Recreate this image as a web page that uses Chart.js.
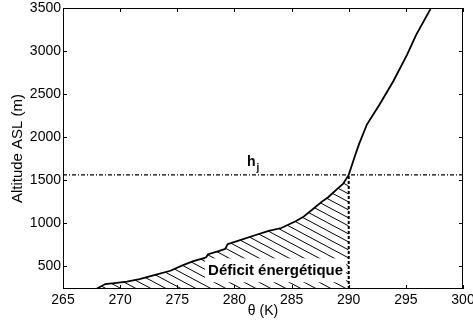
<!DOCTYPE html>
<html>
<head>
<meta charset="utf-8">
<script src="https://cdn.jsdelivr.net/npm/chart.js@4/dist/chart.umd.min.js"></script>
<style>
  html, body { margin: 0; padding: 0; background: #fff; }
  #wrap { width: 473px; height: 326px; }
</style>
</head>
<body>
<div id="wrap"><canvas id="c" width="473" height="326"></canvas></div>
<script>
// Potential temperature profile (K) against altitude above sea level (m)
const thetaK = [267.9, 268.7, 269.5, 270.6, 271.7, 272.9, 274.4, 275.4, 276.4, 277.5,
                277.7, 278.7, 279.2, 279.4, 280.5, 281.8, 283.0, 284.1, 285.4, 286.0,
                286.8, 287.6, 288.2, 289.0, 289.5, 290.0, 290.5, 290.9, 291.6, 292.7,
                293.9, 295.1, 295.9, 297.1, 297.3];
const altitudeM = [233, 291, 302, 318, 349, 390, 445, 504, 558, 598,
                   638, 677, 700, 754, 800, 858, 908, 942, 1023, 1069,
                   1155, 1243, 1300, 1397, 1455, 1560, 1762, 1917, 2148, 2379,
                   2648, 2956, 3187, 3475, 3530];

// Jet height h_j and the potential temperature reached there
const hjAltitude = 1560;
const hjTheta = 290;

const xTicks = [265, 270, 275, 280, 285, 290, 295, 300];
const yTicks = [500, 1000, 1500, 2000, 2500, 3000, 3500];
const xRange = [265, 300];
const yRange = [233, 3500];

const FONT = "'Liberation Sans', Arial, Helvetica, sans-serif";

const profile = thetaK.map((t, i) => ({ x: t, y: altitudeM[i] }));
// Area of the energy deficit: under the profile, up to h_j
const deficitArea = profile.filter(p => p.x <= hjTheta && p.y <= hjAltitude);

// Diagonal hatching used to fill the deficit area
function makeHatch() {
  const w = 15, h = 8;
  const cv = document.createElement('canvas');
  cv.width = w; cv.height = h;
  const g = cv.getContext('2d');
  g.strokeStyle = '#000';
  g.lineWidth = 1;
  g.beginPath();
  for (const ox of [-w, 0, w]) {
    g.moveTo(ox - w, -h);
    g.lineTo(ox + 2 * w, 2 * h);
  }
  g.stroke();
  return g.createPattern(cv, 'repeat');
}

// Frame, inward tick marks and text annotations
const framePlugin = {
  id: 'frame',
  afterDraw(chart) {
    const { ctx, chartArea: a, scales: { x, y } } = chart;
    ctx.save();
    ctx.strokeStyle = '#000';
    ctx.lineWidth = 1;
    ctx.strokeRect(Math.round(a.left) + 0.5, Math.round(a.top) + 0.5,
                   Math.round(a.right - a.left) - 1, Math.round(a.bottom - a.top) - 1);
    const tl = 4;
    ctx.beginPath();
    xTicks.forEach(v => {
      const px = Math.round(x.getPixelForValue(v)) + 0.5;
      ctx.moveTo(px, a.bottom); ctx.lineTo(px, a.bottom - tl);
      ctx.moveTo(px, a.top); ctx.lineTo(px, a.top + tl);
    });
    yTicks.forEach(v => {
      const py = Math.round(y.getPixelForValue(v)) + 0.5;
      ctx.moveTo(a.left, py); ctx.lineTo(a.left + tl, py);
      ctx.moveTo(a.right, py); ctx.lineTo(a.right - tl, py);
    });
    ctx.stroke();

    // h_j label above the jet-height line
    ctx.fillStyle = '#000';
    ctx.textBaseline = 'alphabetic';
    ctx.textAlign = 'left';
    const hx = x.getPixelForValue(281.1);
    const hy = y.getPixelForValue(hjAltitude) - 9;
    ctx.font = 'bold 14px ' + FONT;
    ctx.fillText('h', hx, hy);
    const hw = ctx.measureText('h').width;
    ctx.font = 'bold 10px ' + FONT;
    ctx.fillText('j', hx + hw + 1, hy + 5);

    // Label of the hatched area on a white box
    ctx.font = 'bold 15px ' + FONT;
    const label = 'Déficit énergétique';
    const tw = ctx.measureText(label).width;
    const cx = x.getPixelForValue(283.6);
    const cy = y.getPixelForValue(450);
    ctx.fillStyle = '#fff';
    ctx.fillRect(cx - tw / 2 - 3, cy - 12, tw + 6, 24);
    ctx.fillStyle = '#000';
    ctx.textAlign = 'center';
    ctx.textBaseline = 'middle';
    ctx.fillText(label, cx, cy + 1);
    ctx.restore();
  }
};

const tickFont = { family: FONT, size: 14 };

new Chart(document.getElementById('c'), {
  type: 'line',
  data: {
    datasets: [
      {
        data: profile,
        borderColor: '#000',
        borderWidth: 1.8,
        pointRadius: 0,
        tension: 0,
        fill: false
      },
      {
        data: [{ x: xRange[0], y: hjAltitude }, { x: xRange[1], y: hjAltitude }],
        borderColor: '#000',
        borderWidth: 1.3,
        borderDash: [4, 2, 1, 2],
        pointRadius: 0,
        fill: false
      },
      {
        data: [{ x: hjTheta, y: yRange[0] }, { x: hjTheta, y: hjAltitude }],
        borderColor: '#000',
        borderWidth: 2,
        borderDash: [3, 2],
        pointRadius: 0,
        fill: false
      },
      {
        data: deficitArea,
        borderWidth: 0,
        borderColor: 'rgba(0,0,0,0)',
        backgroundColor: makeHatch(),
        pointRadius: 0,
        tension: 0,
        fill: 'start'
      }
    ]
  },
  options: {
    responsive: false,
    animation: false,
    events: [],
    layout: { padding: { top: 8, right: 10, left: 0, bottom: 0 } },
    plugins: { legend: { display: false }, tooltip: { enabled: false } },
    scales: {
      x: {
        type: 'linear',
        min: xRange[0], max: xRange[1],
        afterBuildTicks: s => { s.ticks = xTicks.map(v => ({ value: v })); },
        afterFit: s => { s.height = 37; s.paddingLeft = 0; s.paddingRight = 0; },
        grid: { display: false, drawTicks: false },
        border: { display: false },
        ticks: { font: tickFont, color: '#000', padding: 3, maxRotation: 0, autoSkip: false,
                 callback: v => String(v) },
        title: { display: true, text: 'θ (K)', color: '#000', font: tickFont, padding: { top: 0, bottom: 6 } }
      },
      y: {
        type: 'linear',
        min: yRange[0], max: yRange[1],
        afterBuildTicks: s => { s.ticks = yTicks.map(v => ({ value: v })); },
        afterFit: s => { s.width = 63; s.paddingTop = 0; s.paddingBottom = 0; },
        grid: { display: false, drawTicks: false },
        border: { display: false },
        ticks: { font: tickFont, color: '#000', padding: 2, autoSkip: false,
                 callback: v => String(v) },
        title: { display: true, text: 'Altitude ASL (m)', color: '#000', font: { family: FONT, size: 15 }, padding: { top: 9, bottom: 0 } }
      }
    }
  },
  plugins: [framePlugin]
});
</script>
</body>
</html>
